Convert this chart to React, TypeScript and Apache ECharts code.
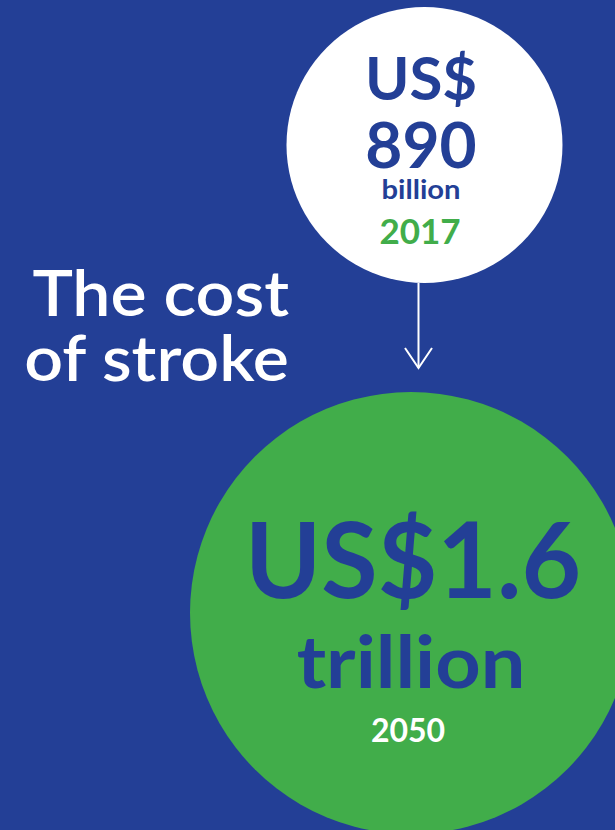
import React, { useEffect, useRef } from "react";
import * as echarts from "echarts";

const titleLines = ["The cost", "of stroke"];
const years = ["2017", "2050"];
const amounts = ["890", "1.6"];
const units = ["billion", "trillion"];
const currency = "US$";

const BLUE = "#233f96";
const GREEN = "#41ad4a";
const WHITE = "#ffffff";
const FONT = "Lato, 'Open Sans', sans-serif";

export default function App() {
  const ref = useRef<HTMLDivElement>(null);
  useEffect(() => {
    document.body.style.margin = "0";
    const chart = echarts.init(ref.current!, null, { renderer: "svg" });
    const txt = (
      text: string,
      x: number,
      y: number,
      size: number,
      color: string,
      weight: any = "bold",
      align: any = "center",
      scaleX = 1
    ) => ({
      type: "text",
      x,
      y,
      scaleX,
      style: {
        text,
        fill: color,
        font: `${weight} ${size}px ${FONT}`,
        lineHeight: Math.round(size * 0.75),
        align,
        verticalAlign: "middle",
      },
    });
    chart.setOption({
      animation: false,
      backgroundColor: BLUE,
      graphic: [
        { type: "circle", shape: { cx: 424.5, cy: 145, r: 138 }, style: { fill: WHITE } },
        { type: "circle", shape: { cx: 411, cy: 613, r: 221 }, style: { fill: GREEN } },
        { type: "line", shape: { x1: 418.5, y1: 283, x2: 418.5, y2: 368 }, style: { stroke: WHITE, lineWidth: 2 } },
        { type: "polyline", shape: { points: [[405, 348], [418.5, 368], [432, 348]] }, style: { stroke: WHITE, lineWidth: 2, fill: null } },
        txt(currency, 421, 77, 60, BLUE),
        txt(amounts[0], 421, 143, 64, BLUE),
        txt(units[0], 421, 188, 27, BLUE, "bold", "center", 1.08),
        txt(years[0], 420, 229.5, 35, GREEN),
        txt(titleLines[0], 289, 291, 63, WHITE, 600, "right", 1.08),
        txt(titleLines[1], 289, 356, 63, WHITE, 600, "right", 1.08),
        txt(currency + amounts[1], 413, 557, 106, BLUE, "bold", "center", 0.97),
        txt(units[1], 411, 660, 72, BLUE, "bold", "center", 1.1),
        txt(years[1], 408, 729, 32, WHITE),
      ],
    });
    return () => chart.dispose();
  }, []);
  return <div ref={ref} style={{ width: 615, height: 830 }} />;
}
